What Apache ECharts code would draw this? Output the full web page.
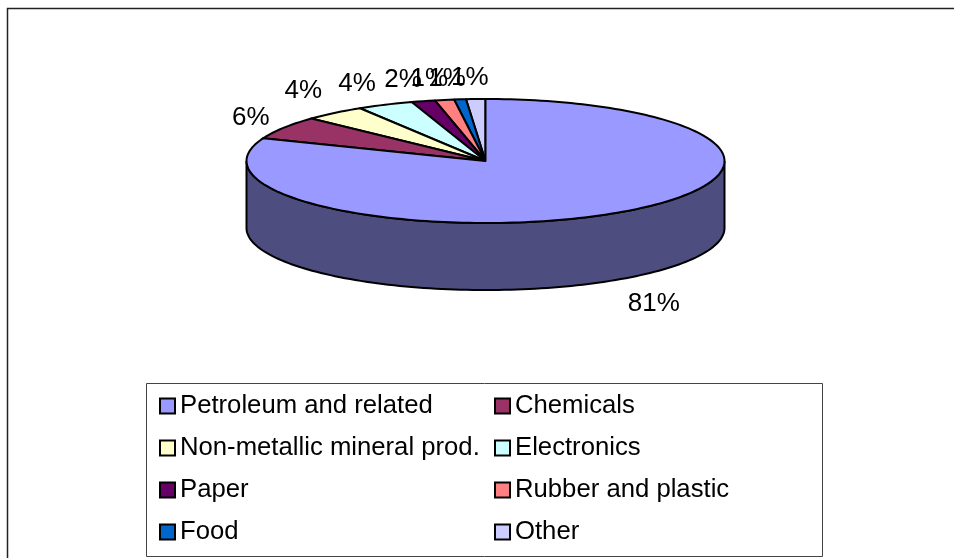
<!DOCTYPE html>
<html>
<head>
<meta charset="utf-8">
<style>html,body{margin:0;padding:0;background:#fff}#chart{width:954px;height:558px}</style>
<script src="https://cdn.jsdelivr.net/npm/echarts@6/dist/echarts.min.js"></script>
</head>
<body>
<div id="chart"></div>
<script>
// Shares of the total, by sector, in percent
const sectors = ['Petroleum and related', 'Chemicals', 'Non-metallic mineral prod.', 'Electronics', 'Paper', 'Rubber and plastic', 'Food', 'Other'];
const shares = [81, 6, 4.2, 3.8, 1.6, 1.3, 0.8, 1.3];
const colors = ['#9999ff', '#993366', '#ffffcc', '#ccffff', '#660066', '#ff8080', '#0066cc', '#ccccff'];

// Tilted-disc geometry
const disc = { cx: 485.5, cy: 161, rx: 239, ry: 62, depth: 67 };
// Label anchors, as pixel offsets from each slice's rim midpoint
const labelNudge = [[34, 25], [-33, -10], [-31, -22], [-28, -21], [-20, -21], [-15, -21], [-13, -21], [-6, -21]];
const total = shares.reduce((a, b) => a + b, 0);
const font = 'Liberation Sans, Arial, sans-serif';

const rim = (deg, drop) => {
  const t = deg * Math.PI / 180;
  return [disc.cx + disc.rx * Math.sin(t), disc.cy - disc.ry * Math.cos(t) + (drop || 0)];
};
const arc = (from, to, drop) => {
  const pts = [];
  const n = Math.max(2, Math.ceil((to - from) / 1.5));
  for (let i = 0; i <= n; i++) pts.push(rim(from + (to - from) * i / n, drop));
  return pts;
};
// The wall is the face colour at half brightness
const shade = (color) => {
  const [r, g, b] = echarts.color.parse(color);
  return `rgb(${Math.round(r / 2)},${Math.round(g / 2)},${Math.round(b / 2)})`;
};

function renderSlice(index, api) {
  const before = shares.slice(0, index).reduce((a, b) => a + b, 0);
  const start = before / total * 360;
  const end = start + api.value(0) / total * 360;
  const mid = (start + end) / 2;
  const color = api.visual('color');
  const children = [];

  // Side wall: only the near half of the disc shows it
  const wallFrom = Math.max(start, 90), wallTo = Math.min(end, 270);
  if (wallTo > wallFrom) {
    const top = arc(wallFrom, wallTo, 0);
    const bottom = arc(wallFrom, wallTo, disc.depth).reverse();
    children.push({
      type: 'polygon',
      shape: { points: top.concat(bottom) },
      style: { fill: shade(color), stroke: '#000', lineWidth: 2 }
    });
  }

  // Top face of the slice
  children.push({
    type: 'polygon',
    shape: { points: [[disc.cx, disc.cy]].concat(arc(start, end, 0)) },
    style: { fill: color, stroke: '#000', lineWidth: 2, lineJoin: 'round' }
  });

  // Percentage label
  const nearSide = mid > 90 && mid < 270;
  const anchor = rim(mid, nearSide ? disc.depth : 0);
  const nudge = labelNudge[index];
  children.push({
    type: 'text',
    z2: 10,
    style: {
      x: anchor[0] + nudge[0],
      y: anchor[1] + nudge[1],
      text: Math.round(api.value(0) / total * 100) + '%',
      fill: '#000',
      font: '26px ' + font,
      align: 'center',
      verticalAlign: 'middle'
    }
  });
  return { type: 'group', children };
}

// One custom series per sector, so each gets its own legend entry
const series = sectors.map((name, i) => ({
  type: 'custom',
  name,
  coordinateSystem: 'none',
  silent: true,
  animation: false,
  z: sectors.length - i,
  itemStyle: { color: colors[i] },
  data: [[shares[i]]],
  renderItem: (params, api) => renderSlice(i, api)
}));

const legendColumn = (left, names) => ({
  orient: 'vertical',
  left,
  top: 388,
  itemWidth: 15,
  itemHeight: 15,
  itemGap: 16,
  icon: 'rect',
  selectedMode: false,
  itemStyle: { borderColor: '#000', borderWidth: 2 },
  // Bottom padding lifts the text a little above its swatch
  textStyle: { fontFamily: font, fontSize: 25.7, color: '#000', padding: [0, 0, 6, 0] },
  data: names
});

const chart = echarts.init(document.getElementById('chart'), null, { renderer: 'canvas' });
chart.setOption({
  backgroundColor: '#fff',
  animation: false,
  legend: [
    legendColumn(154, sectors.filter((_, i) => i % 2 === 0)),
    legendColumn(489, sectors.filter((_, i) => i % 2 === 1))
  ],
  graphic: [
    {
      type: 'polyline',
      silent: true,
      shape: { points: [[7.5, 558], [7.5, 8.5], [954, 8.5]] },
      style: { fill: null, stroke: '#222', lineWidth: 1.5 }
    },
    {
      type: 'rect',
      silent: true,
      z: -1,
      shape: { x: 146.5, y: 383.5, width: 676, height: 173 },
      style: { fill: '#fff', stroke: '#444', lineWidth: 1 }
    }
  ],
  series
});
</script>
</body>
</html>
